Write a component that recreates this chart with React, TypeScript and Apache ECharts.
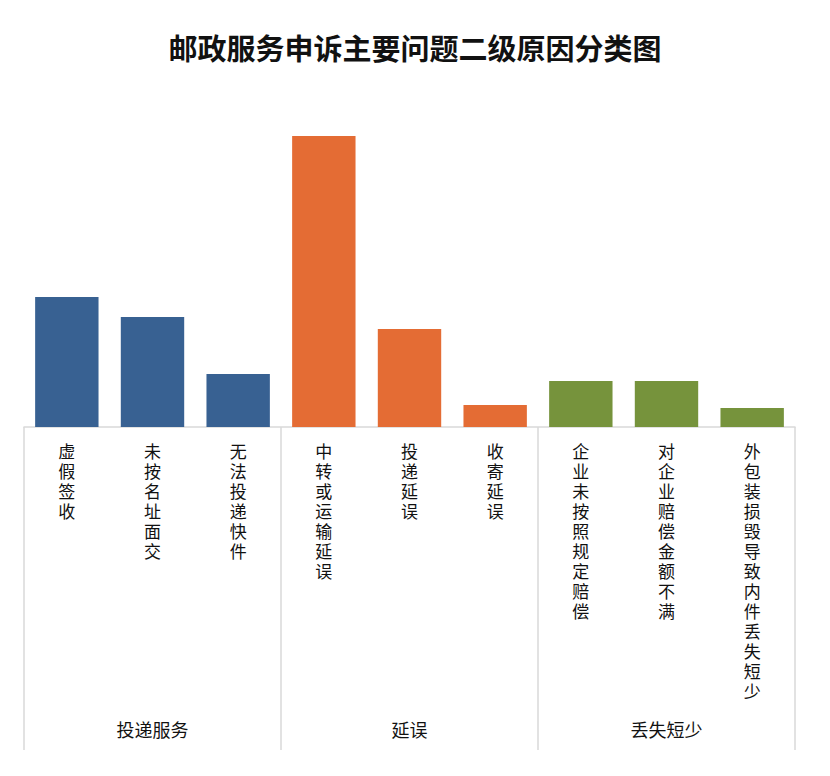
import React, { useEffect, useRef } from "react";
import * as echarts from "echarts";

const title = "邮政服务申诉主要问题二级原因分类图";
const categories = [
  "虚假签收",
  "未按名址面交",
  "无法投递快件",
  "中转或运输延误",
  "投递延误",
  "收寄延误",
  "企业未按照规定赔偿",
  "对企业赔偿金额不满",
  "外包装损毁导致内件丢失短少",
];
const values = [13.0, 11.0, 5.3, 29.1, 9.8, 2.2, 4.6, 4.6, 1.9];
const groups = ["投递服务", "延误", "丢失短少"];
const groupOfCategory = [0, 0, 0, 1, 1, 1, 2, 2, 2];

const groupColors = ["#386192", "#E46C34", "#76933C"];
const FONT = '"Noto Sans CJK SC", "Noto Sans", sans-serif';

export default function App() {
  const ref = useRef<HTMLDivElement>(null);
  useEffect(() => {
    if (!ref.current) return;
    const chart = echarts.init(ref.current, undefined, { renderer: "svg" });
    chart.setOption({
      animation: false,
      backgroundColor: "#ffffff",
      title: {
        text: title,
        left: "center",
        top: 27,
        textStyle: { fontFamily: FONT, fontSize: 29, fontWeight: "bold", color: "#111" },
      },
      grid: { left: 24, right: 35, top: 127, bottom: 349, containLabel: false },
      xAxis: [
        {
          type: "category",
          data: categories,
          position: "bottom",
          axisLine: { show: true, lineStyle: { color: "#d9d9d9", width: 1.5 } },
          axisTick: { show: false },
          axisLabel: {
            interval: 0,
            margin: 13,
            fontFamily: FONT,
            fontSize: 17,
            lineHeight: 20,
            color: "#111",
            verticalAlign: "top",
            formatter: (v: string) => v.split("").join("\n"),
          },
        },
        {
          type: "category",
          data: groups,
          position: "bottom",
          axisLine: { show: false },
          axisTick: { show: true, length: 323, lineStyle: { color: "#d9d9d9", width: 1.5 } },
          axisLabel: {
            interval: 0,
            margin: 293,
            fontFamily: FONT,
            fontSize: 18,
            color: "#111",
          },
        },
      ],
      yAxis: { type: "value", min: 0, max: 30, show: false, splitLine: { show: false } },
      series: [
        {
          type: "bar",
          xAxisIndex: 0,
          barCategoryGap: "26%",
          data: values.map((v, i) => ({
            value: v,
            itemStyle: { color: groupColors[groupOfCategory[i]] },
          })),
        },
      ],
    });
    return () => chart.dispose();
  }, []);
  return (
    <div
      ref={ref}
      style={{ position: "fixed", left: 0, top: 0, width: 830, height: 776 }}
    />
  );
}
